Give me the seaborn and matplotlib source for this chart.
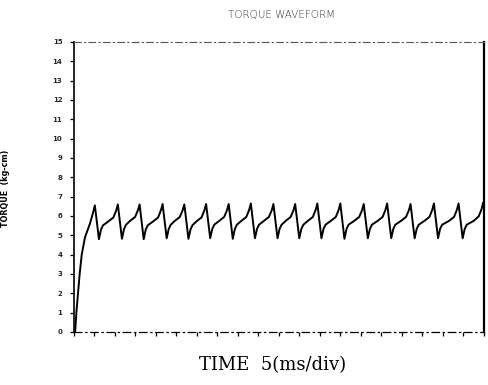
import matplotlib
matplotlib.use("Agg")
import matplotlib.pyplot as plt
import seaborn as sns
import pandas as pd

# ---- data (time in ms, torque in kg-cm) ----
time_ms = [
    0.4, 0.7, 1.1, 1.5, 2.0, 2.8, 4.0, 4.8, 5.2,
    6.2, 6.7, 7.2, 8.5, 9.7, 10.4, 10.8,
    11.8, 12.3, 12.8, 13.8, 15.0, 15.7, 16.1,
    17.1, 17.6, 18.1, 19.4, 20.6, 21.3, 21.7,
    22.7, 23.2, 23.7, 24.7, 25.9, 26.6, 27.0,
    28.0, 28.5, 29.0, 30.0, 31.2, 31.9, 32.3,
    33.3, 33.8, 34.3, 35.5, 36.7, 37.4, 37.8,
    38.8, 39.3, 39.8, 40.9, 42.1, 42.8, 43.2,
    44.2, 44.7, 45.2, 46.4, 47.6, 48.3, 48.7,
    49.7, 50.2, 50.7, 51.7, 52.9, 53.6, 54.0,
    55.0, 55.5, 56.0, 57.1, 58.3, 59.0, 59.4,
    60.4, 60.9, 61.4, 62.7, 63.9, 64.6, 65.0,
    66.0, 66.5, 67.0, 68.4, 69.6, 70.3, 70.7,
    71.7, 72.2, 72.7, 74.1, 75.3, 76.0, 76.4,
    77.4, 77.9, 78.4, 79.8, 81.0, 81.7, 82.1,
    83.1, 83.6, 84.1, 85.5, 86.7, 87.4, 87.8,
    88.8, 89.3, 89.8, 91.5, 92.7, 93.4, 93.8,
    94.8, 95.3, 95.8, 97.5, 98.7, 99.4, 99.8,
]
torque = [
    0.0, 1.0, 2.0, 3.0, 4.0, 4.9, 5.6, 6.2, 6.55,
    4.80, 5.30, 5.52, 5.72, 5.92, 6.28, 6.60,
    4.82, 5.32, 5.55, 5.75, 5.95, 6.30, 6.60,
    4.80, 5.30, 5.52, 5.72, 5.92, 6.30, 6.62,
    4.85, 5.33, 5.55, 5.75, 5.95, 6.30, 6.60,
    4.82, 5.30, 5.53, 5.73, 5.93, 6.30, 6.62,
    4.85, 5.33, 5.55, 5.75, 5.95, 6.30, 6.62,
    4.82, 5.32, 5.55, 5.75, 5.95, 6.32, 6.65,
    4.85, 5.33, 5.55, 5.75, 5.95, 6.30, 6.62,
    4.85, 5.33, 5.55, 5.75, 5.95, 6.30, 6.62,
    4.85, 5.33, 5.55, 5.75, 5.95, 6.32, 6.65,
    4.85, 5.33, 5.55, 5.75, 5.95, 6.32, 6.65,
    4.82, 5.32, 5.55, 5.75, 5.95, 6.30, 6.62,
    4.85, 5.33, 5.55, 5.75, 5.95, 6.32, 6.65,
    4.85, 5.33, 5.55, 5.75, 5.95, 6.30, 6.62,
    4.85, 5.33, 5.55, 5.75, 5.95, 6.32, 6.65,
    4.85, 5.33, 5.55, 5.75, 5.95, 6.32, 6.65,
    4.85, 5.33, 5.55, 5.75, 5.98, 6.35, 6.70,
]
y_ticks = list(range(0, 16))
x_ticks = list(range(0, 101, 5))

title_text = "TORQUE WAVEFORM"
x_label = "TIME  5(ms/div)"
y_label = "TORQUE  (kg-cm)"

df = pd.DataFrame({"time": time_ms, "torque": torque})

sns.set_theme(style="white")
plt.rcParams["font.family"] = ["DejaVu Sans"]

fig = plt.figure(figsize=(4.88, 3.85), dpi=100)
ax = fig.add_axes([73.5 / 488, 1 - 332 / 385, (484 - 73.5) / 488, (332 - 42) / 385])

sns.lineplot(data=df, x="time", y="torque", ax=ax, color="black", linewidth=1.4,
             estimator=None, sort=False)

ax.set_xlim(0, 100)
ax.set_ylim(0, 15)
ax.set_xticks(x_ticks)
ax.set_xticklabels([])
ax.set_yticks(y_ticks)
ax.set_yticklabels([str(v) for v in y_ticks], fontsize=5, fontweight="bold")
ax.tick_params(axis="both", direction="out", length=3, width=0.9, color="black",
               bottom=True, left=True, pad=5)
ax.set_xlabel("")
ax.set_ylabel("")

for side in ["left", "right"]:
    ax.spines[side].set_color("black")
    ax.spines[side].set_visible(True)
ax.spines["left"].set_linewidth(1.2)
ax.spines["right"].set_linewidth(1.6)
ax.spines["top"].set_color("#555555")
ax.spines["top"].set_linewidth(0.8)
ax.spines["top"].set_linestyle((0, (6, 3, 1, 3)))
ax.spines["bottom"].set_color("black")
ax.spines["bottom"].set_linewidth(0.9)
ax.spines["bottom"].set_linestyle((0, (6, 3, 1, 3)))

fig.text(281 / 488, 1 - 15 / 385, title_text, ha="center", va="center",
         fontsize=7.5, color="#333333", fontweight="light")
fig.text(6 / 488, 1 - 188 / 385, y_label, ha="center", va="center", rotation=90,
         fontsize=5.8, fontweight="bold", color="black")
fig.text(273 / 488, 1 - 365 / 385, x_label, ha="center", va="center",
         fontsize=13, family="DejaVu Serif", color="black")

fig.savefig("out.png", dpi=100, facecolor="white")
